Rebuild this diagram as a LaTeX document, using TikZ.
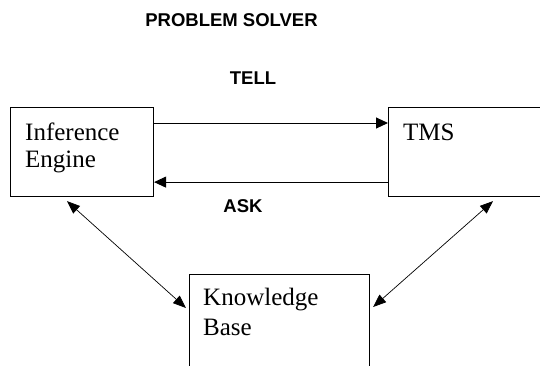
\documentclass[tikz,border=0pt]{standalone}
\usepackage{fontspec}
\setmainfont{Liberation Serif}
\setsansfont{Liberation Sans}
\usetikzlibrary{arrows.meta}
\begin{document}
\begin{tikzpicture}[x=1pt,y=-1pt,
  box/.style={draw, line width=1.1pt, inner sep=0pt, anchor=north west},
  lbl/.style={anchor=base west, font=\fontsize{25}{27}\selectfont, inner sep=0pt, align=left},
  captxt/.style={font=\sffamily\bfseries\fontsize{18.5}{20}\selectfont, inner sep=0pt, anchor=base},
  arr/.style={line width=1pt, -{Triangle[length=12pt,width=11pt]}},
  darr/.style={line width=0.7pt, {Triangle[length=13pt,width=10pt]}-{Triangle[length=13pt,width=10pt]}}]
\useasboundingbox (0,0) rectangle (540,365);
\clip (0,0) rectangle (540,365);
\fill[white] (0,0) rectangle (540,365);
\node[box, minimum width=143pt, minimum height=89pt] (ie) at (10,107) {};
\node[box, minimum width=170pt, minimum height=89pt] (tms) at (388,107) {};
\node[box, minimum width=180pt, minimum height=110pt] (kb) at (189,274) {};
\node[lbl] (iet) at (25,167) {Inference\\Engine};
\node[lbl] (tmst) at (403,140) {TMS};
\node[lbl, font=\fontsize{25}{30}\selectfont] (kbt) at (203,335) {Knowledge\\Base};
\node[captxt] (ps) at (231.5,26) {PROBLEM SOLVER};
\node[captxt] (tell) at (253,84) {TELL};
\node[captxt] (ask) at (243,212) {ASK};
\draw[arr] ([yshift=-16pt]ie.north east) -- ([yshift=-16pt]tms.north west);
\draw[arr] ([yshift=15pt]tms.south west) -- ([yshift=15pt]ie.south east);
\draw[darr] ([xshift=57pt,yshift=-4pt]ie.south west) -- ([xshift=-3pt,yshift=-34pt]kb.north west);
\draw[darr] ([xshift=105pt,yshift=-4pt]tms.south west) -- ([xshift=3pt,yshift=-33pt]kb.north east);
\end{tikzpicture}
\end{document}
